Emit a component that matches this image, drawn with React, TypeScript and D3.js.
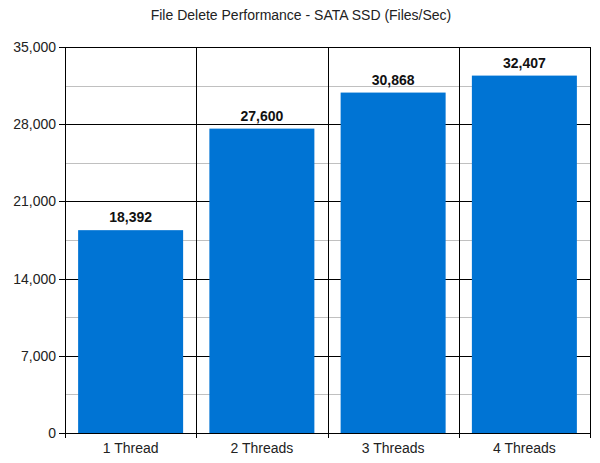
import React from 'react';
import * as d3 from 'd3';

const categories = ['1 Thread', '2 Threads', '3 Threads', '4 Threads'];
const values = [18392, 27600, 30868, 32407];
const yTicks = [0, 7000, 14000, 21000, 28000, 35000];
const minorTicks = [3500, 10500, 17500, 24500, 31500];

const W = 600;
const H = 463;
const margin = { top: 47, right: 10, bottom: 30, left: 65 };
const FONT = 'Arial, "Liberation Sans", sans-serif';

export default function App() {
  const x = d3.scaleBand<string>()
    .domain(categories)
    .range([margin.left, W - margin.right])
    .paddingInner(0.2)
    .paddingOuter(0.1);
  const y = d3.scaleLinear().domain([0, 35000]).range([H - margin.bottom, margin.top]);
  const fmt = d3.format(',');
  const left = margin.left;
  const right = W - margin.right;
  const bottom = H - margin.bottom;
  const boundaries = d3.range(categories.length + 1).map((i) => left + i * (right - left) / categories.length);

  return (
    <svg width={W} height={H} style={{ position: 'absolute', left: 0, top: 0, background: '#fff' }}>
      <text x={W / 2 + 1} y={20} textAnchor="middle" fontFamily={FONT} fontSize={14} fill="#222">
        File Delete Performance - SATA SSD (Files/Sec)
      </text>

      {/* minor gridlines */}
      {minorTicks.map((t) => (
        <line key={`m${t}`} x1={left} x2={right} y1={Math.round(y(t)) + 0.5} y2={Math.round(y(t)) + 0.5} stroke="#c0c0c0" />
      ))}

      {/* major gridlines + y labels */}
      {yTicks.map((t) => (
        <g key={`t${t}`}>
          <line x1={left - 6} x2={right} y1={Math.round(y(t)) + 0.5} y2={Math.round(y(t)) + 0.5} stroke="#000" />
          <text x={left - 9} y={y(t) + 5} textAnchor="end" fontFamily={FONT} fontSize={14} fill="#222">
            {fmt(t)}
          </text>
        </g>
      ))}

      {/* category boundaries */}
      {boundaries.map((bx, i) => (
        <line key={`b${i}`} x1={Math.round(bx) + 0.5} x2={Math.round(bx) + 0.5} y1={margin.top} y2={bottom + 5} stroke="#000" />
      ))}

      {/* bars */}
      {values.map((v, i) => (
        <rect key={categories[i]} x={x(categories[i])} y={y(v)} width={x.bandwidth()} height={bottom - y(v)} fill="#0074d4" />
      ))}

      {/* category labels */}
      {categories.map((c) => (
        <text key={c} x={(x(c) ?? 0) + x.bandwidth() / 2} y={bottom + 20} textAnchor="middle" fontFamily={FONT} fontSize={14} fill="#222">
          {c}
        </text>
      ))}

      {/* value labels */}
      {values.map((v, i) => (
        <text key={`v${i}`} x={(x(categories[i]) ?? 0) + x.bandwidth() / 2} y={y(v) - 8} textAnchor="middle" fontFamily={FONT} fontSize={14} fontWeight="bold" fill="#111">
          {fmt(v)}
        </text>
      ))}
    </svg>
  );
}
